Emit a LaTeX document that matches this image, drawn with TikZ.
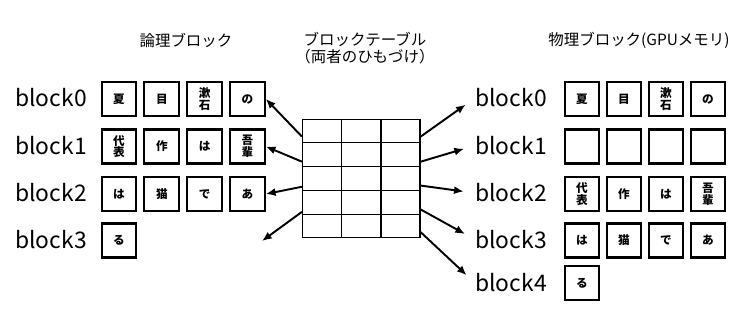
\documentclass[tikz,border=0pt]{standalone}
\usepackage{fontspec}
\setmainfont{Noto Sans CJK JP}
\usetikzlibrary{calc,arrows.meta}

\tikzset{
  moji/.style={draw, line width=1.2pt, minimum width=19.8pt, minimum height=19.3pt,
    inner sep=0pt, align=center, font=\bfseries\fontsize{6.6}{6.7}\selectfont},
  blk/.style={anchor=west, inner sep=0pt, font=\fontsize{13}{15}\selectfont},
  midasi/.style={align=center, font=\fontsize{8.8}{10}\selectfont},
  ya/.style={->, line width=1.1pt},
}

\begin{document}
\begin{tikzpicture}[x=0.02cm, y=-0.02cm, >={Latex[length=5.5pt,width=4.6pt]}]
    \useasboundingbox (0,0) rectangle (745,312);

    % 1. 見出し
    \node[midasi] (tl) at (186,40) {論理ブロック};
    \node[midasi] (tc) at (365,48) {ブロックテーブル\\（両者のひもづけ）};
    \node[midasi] (tr) at (639,40) {物理ブロック(GPUメモリ)};

    % 2. 論理ブロック (左)
    \foreach \r/\y in {0/98,1/145.5,2/193,3/239.5}
        \node[blk] (lb\r) at (15,\y) {block\r};
    \foreach \c/\txt in {0/夏,1/目,2/{漱\\石},3/の}
        \node[moji] (l0\c) at ({119+42.8*\c},99) {\txt};
    \foreach \c/\txt in {0/{代\\表},1/作,2/は,3/{吾\\輩}}
        \node[moji] (l1\c) at ({119+42.8*\c},146.5) {\txt};
    \foreach \c/\txt in {0/は,1/猫,2/で,3/あ}
        \node[moji] (l2\c) at ({119+42.8*\c},194) {\txt};
    \node[moji] (l30) at (119,240.5) {る};

    % 3. ブロックテーブル (中央)
    \node[draw, line width=0.7pt, minimum width=66.9pt, minimum height=67.3pt,
        inner sep=0pt] (tbl) at (361.3,178.4) {};
    \foreach \i in {1,2}
        \draw[line width=0.7pt] ($(tbl.north west)!\i/3!(tbl.north east)$)
            -- ($(tbl.south west)!\i/3!(tbl.south east)$);
    \foreach \j in {1,...,4}
        \draw[line width=0.7pt] ($(tbl.north west)!\j/5!(tbl.south west)$)
            -- ($(tbl.north east)!\j/5!(tbl.south east)$);

    % 4. 物理ブロック (右)
    \foreach \r/\y in {0/98,1/145.5,2/193,3/239.5,4/283}
        \node[blk] (rb\r) at (475,\y) {block\r};
    \foreach \c/\txt in {0/夏,1/目,2/{漱\\石},3/の}
        \node[moji] (r0\c) at ({582+42*\c},99) {\txt};
    \foreach \c in {0,...,3}
        \node[moji] (r1\c) at ({582+42*\c},146.5) {};
    \foreach \c/\txt in {0/{代\\表},1/作,2/は,3/{吾\\輩}}
        \node[moji] (r2\c) at ({582+42*\c},194) {\txt};
    \foreach \c/\txt in {0/は,1/猫,2/で,3/あ}
        \node[moji] (r3\c) at ({582+42*\c},240.5) {\txt};
    \node[moji] (r40) at (582,283) {る};

    % 5. 矢印
    \foreach \f/\b in {0.15/l03,0.36/l13,0.57/l23}
        \draw[ya] ($(tbl.north west)!\f!(tbl.south west)$) -- (\b.east);
    \coordinate (nokori) at (262,241);
    \draw[ya] ($(tbl.north west)!0.78!(tbl.south west)$) -- (nokori);
    \foreach \f/\b in {0.15/rb0,0.36/rb1,0.56/rb2,0.76/rb3,0.95/rb4}
        \draw[ya, shorten >=6.5pt] ($(tbl.north east)!\f!(tbl.south east)$) -- (\b.west);

\end{tikzpicture}
\end{document}
